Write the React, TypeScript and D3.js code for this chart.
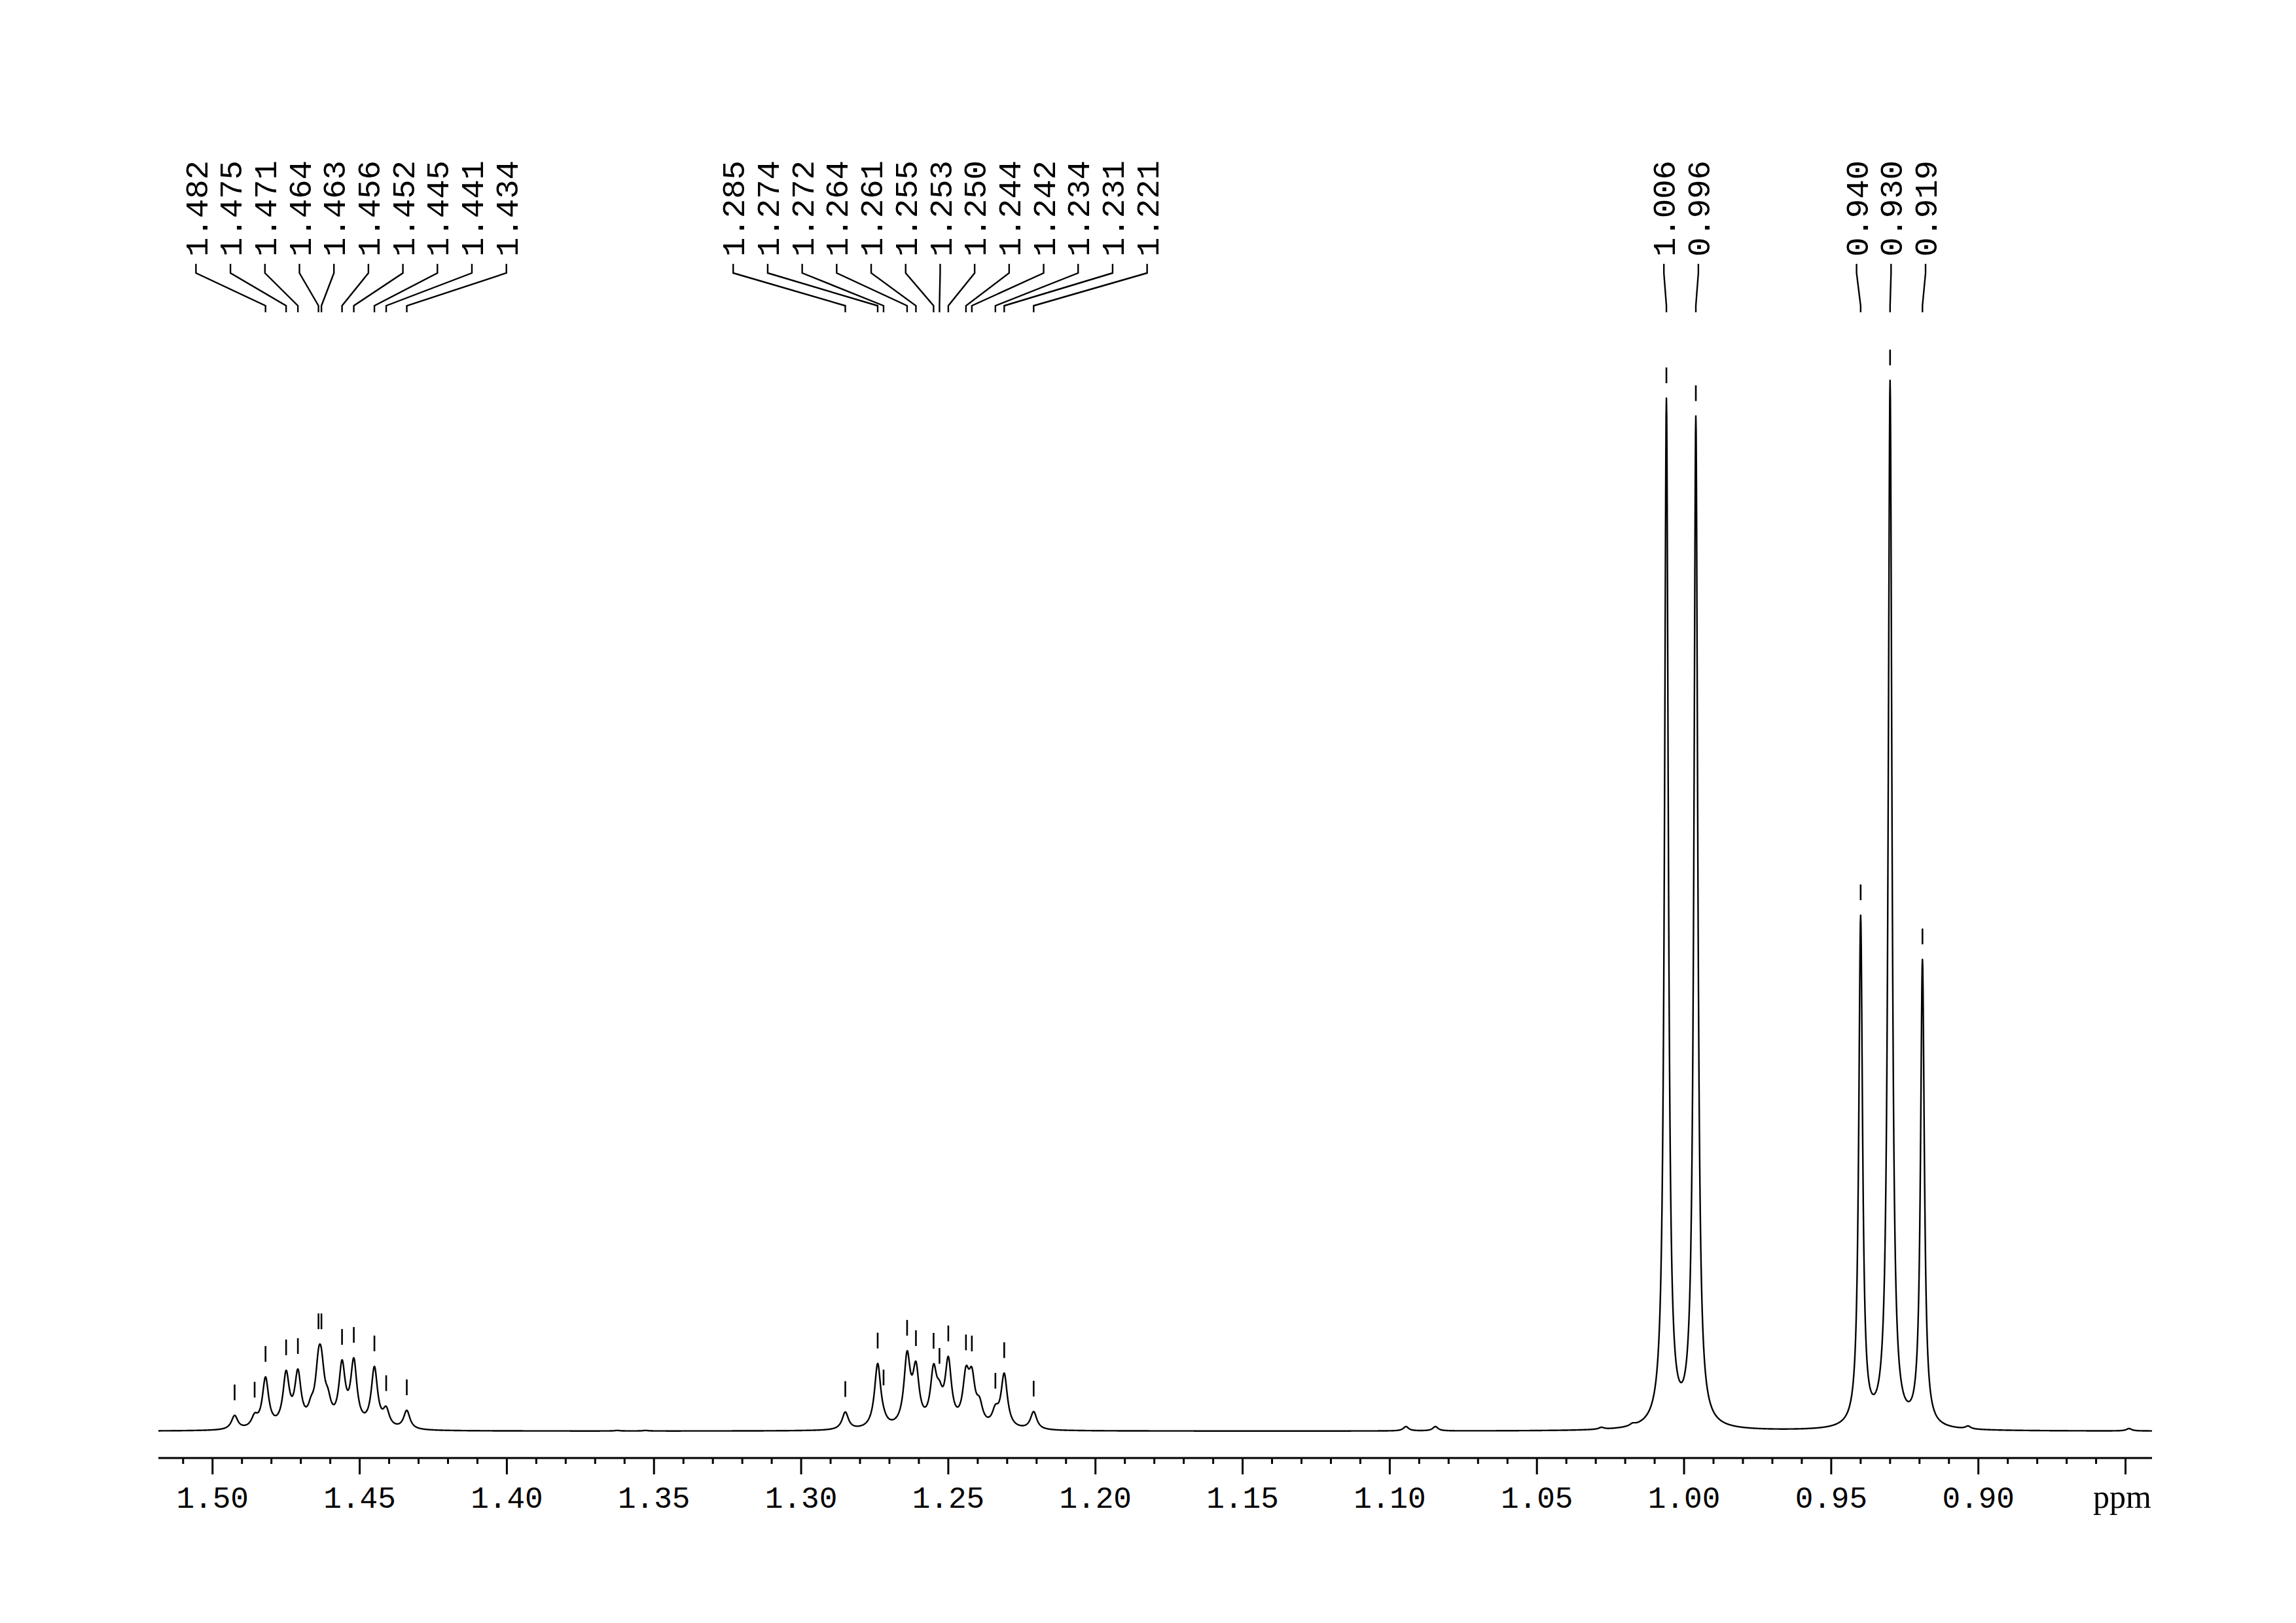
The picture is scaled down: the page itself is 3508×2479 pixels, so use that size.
import React from 'react';
import * as d3 from 'd3';

// ---- Data (ppm positions, apparent heights relative to the 0.930 ppm line = 100) ----
const multipletAPpm = [1.4925, 1.4857, 1.482, 1.475, 1.471, 1.4665, 1.464, 1.463, 1.4608, 1.456, 1.452, 1.445, 1.441, 1.434];
const multipletAHeight = [1.51, 1.73, 5.17, 5.79, 5.92, 3.36, 7.85, 7.85, 4.11, 6.79, 6.98, 6.17, 2.37, 1.99];
const multipletAHalfWidth = 0.0013;

const multipletBPpm = [1.285, 1.274, 1.272, 1.264, 1.261, 1.255, 1.253, 1.25, 1.244, 1.242, 1.2394, 1.234, 1.231, 1.221];
const multipletBHeight = [1.83, 6.44, 2.35, 7.64, 6.65, 6.4, 4.84, 7.12, 6.19, 6.09, 3.28, 2.55, 5.53, 1.87];
const multipletBHalfWidth = 0.0013;

const singletPpm = [1.006, 0.996, 0.94, 0.93, 0.919];
const singletHeight = [98.3, 96.6, 49.1, 100, 44.9];
const singletHalfWidth = 0.00078;

const minorPpm = [1.3625, 1.3529, 1.0945, 1.0845, 1.038, 1.0281, 1.0175, 0.9762, 0.9035, 0.8488];
const minorHeight = [0.07, 0.07, 0.44, 0.44, 0.06, 0.37, 0.79, 0.1, 0.5, 0.25];
const minorHalfWidth = 0.0011;

// Peak-pick labels, one list per cluster
const labelsA = ['1.482', '1.475', '1.471', '1.464', '1.463', '1.456', '1.452', '1.445', '1.441', '1.434'];
const labelsB = ['1.285', '1.274', '1.272', '1.264', '1.261', '1.255', '1.253', '1.250', '1.244', '1.242', '1.234', '1.231', '1.221'];
const labelsC = ['1.006', '0.996'];
const labelsD = ['0.940', '0.930', '0.919'];
// picked peaks drawn with a marker but without a label
const unlabelledPicks = [1.4925, 1.4857];

// Axis
const axisDomain = [1.5184, 0.841];
const majorTickValues = [1.5, 1.45, 1.4, 1.35, 1.3, 1.25, 1.2, 1.15, 1.1, 1.05, 1.0, 0.95, 0.9];
const unitTickValue = 0.85;
const unitLabel = 'ppm';

// ---- Layout ----
const W = 3508;
const H = 2479;
const plotLeft = 242;
const plotRight = 3288;
const baselineY = 2186;
const fullScaleY = 581;
const axisY = 2227;
const tickLabelY = 2303;
const labelTextStartY = 392;
const connTop = 403;
const connElbow1 = 417;
const connElbow2 = 467;
const connBottom = 477;
const labelSpacing = 52.7;
const clusterShift = [24.3, 0, 0, 0];

const lor = (d: number, g: number) => 1 / (1 + (d / g) * (d / g));

export default function App() {
  const x = d3.scaleLinear().domain(axisDomain).range([plotLeft, plotRight]);
  const y = d3.scaleLinear().domain([0, 100]).range([baselineY, fullScaleY]);

  const ppm = [...multipletAPpm, ...multipletBPpm, ...singletPpm, ...minorPpm];
  const target = [...multipletAHeight, ...multipletBHeight, ...singletHeight, ...minorHeight];
  const widths = [
    ...multipletAPpm.map(() => multipletAHalfWidth),
    ...multipletBPpm.map(() => multipletBHalfWidth),
    ...singletPpm.map(() => singletHalfWidth),
    ...minorPpm.map(() => minorHalfWidth),
  ];
  const n = ppm.length;
  // amplitudes so that the summed curve reproduces the read apparent heights
  const amps = target.slice();
  for (let it = 0; it < 500; it++) {
    for (let i = 0; i < n; i++) {
      let s = 0;
      for (let j = 0; j < n; j++) s += amps[j] * lor(ppm[i] - ppm[j], widths[j]);
      amps[i] = Math.max(0, amps[i] + (target[i] - s));
    }
  }
  const spec = (p: number) => {
    let s = 0;
    for (let j = 0; j < n; j++) s += amps[j] * lor(p - ppm[j], widths[j]);
    return s;
  };

  const step = 0.0001;
  const pts: [number, number][] = [];
  const nSteps = Math.round((axisDomain[0] - axisDomain[1]) / step);
  for (let k = 0; k <= nSteps; k++) {
    const p = axisDomain[0] - k * step;
    pts.push([p, spec(p)]);
  }
  const line = d3
    .line<[number, number]>()
    .x((d) => x(d[0]))
    .y((d) => y(d[1]));
  const specPath = line(pts) || '';

  const localMax = (p: number) => {
    let m = 0;
    for (let k = -8; k <= 8; k++) m = Math.max(m, spec(p + k * 0.00005));
    return m;
  };

  const clusters = [labelsA, labelsB, labelsC, labelsD];
  const labelMarks: { label: string; px: number; cx: number }[] = [];
  clusters.forEach((labels, ci) => {
    const pxs = labels.map((l) => x(parseFloat(l)));
    const mean = d3.mean(pxs) as number;
    const cnt = labels.length;
    labels.forEach((l, k) => {
      labelMarks.push({
        label: l,
        px: pxs[k],
        cx: mean + clusterShift[ci] + (k - (cnt - 1) / 2) * labelSpacing,
      });
    });
  });

  const markPpm = [...unlabelledPicks, ...clusters.flat().map((l) => parseFloat(l))];

  const minorTicks = d3.range(85, 152).map((i) => i / 100);

  const mono = "'Liberation Mono', 'DejaVu Sans Mono', monospace";

  return (
    <svg
      width={W}
      height={H}
      viewBox={`0 0 ${W} ${H}`}
      style={{ position: 'absolute', left: 0, top: 0, background: '#fff' }}
    >
      <rect x={0} y={0} width={W} height={H} fill="#fff" />
      {/* spectrum */}
      <path d={specPath} fill="none" stroke="#000" strokeWidth={2.4} strokeLinejoin="round" />

      {/* peak-pick markers */}
      {markPpm.map((p, i) => {
        const top = y(localMax(p));
        return (
          <line key={'m' + i} x1={x(p)} x2={x(p)} y1={top - 47} y2={top - 23} stroke="#000" strokeWidth={2.6} />
        );
      })}

      {/* peak labels and connectors */}
      {labelMarks.map((m, i) => (
        <g key={'l' + i}>
          <path
            d={`M${m.cx},${connTop}L${m.cx},${connElbow1}L${m.px},${connElbow2}L${m.px},${connBottom}`}
            fill="none"
            stroke="#000"
            strokeWidth={2.4}
          />
          <text
            transform={`translate(${m.cx},${labelTextStartY}) rotate(-90)`}
            dy="0.35em"
            textAnchor="start"
            fontFamily={mono}
            fontSize={49}
            fill="#000"
          >
            {m.label}
          </text>
        </g>
      ))}

      {/* axis */}
      <line x1={plotLeft} x2={plotRight} y1={axisY} y2={axisY} stroke="#000" strokeWidth={3} />
      {minorTicks.map((v, i) => {
        const major = Math.round(v * 100) % 5 === 0;
        return (
          <line
            key={'t' + i}
            x1={x(v)}
            x2={x(v)}
            y1={axisY}
            y2={axisY + (major ? 25 : 9)}
            stroke="#000"
            strokeWidth={3}
          />
        );
      })}
      {majorTickValues.map((v, i) => (
        <text
          key={'tl' + i}
          x={x(v)}
          y={tickLabelY}
          textAnchor="middle"
          fontFamily={mono}
          fontSize={46}
          fill="#000"
        >
          {d3.format('.2f')(v)}
        </text>
      ))}
      <text
        x={x(unitTickValue) - 5}
        y={tickLabelY}
        textAnchor="middle"
        fontFamily="'Liberation Serif', 'DejaVu Serif', serif"
        fontSize={50}
        fill="#000"
      >
        {unitLabel}
      </text>
    </svg>
  );
}
